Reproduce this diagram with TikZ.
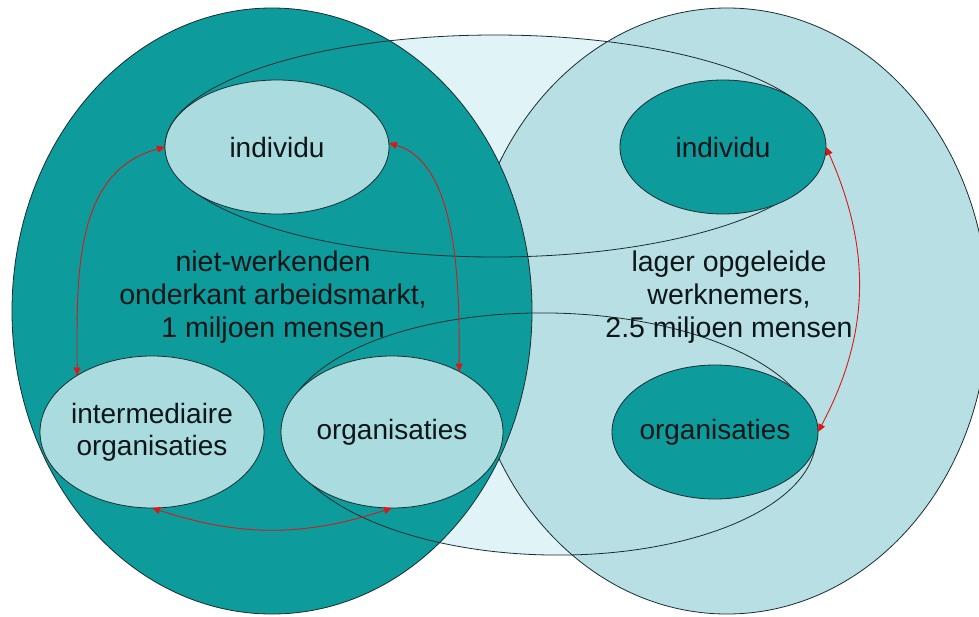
\documentclass[tikz,border=0pt]{standalone}
\usepackage{fontspec}
\setmainfont{Liberation Sans}
\usetikzlibrary{shapes.geometric,arrows.meta}
\definecolor{darkteal}{RGB}{14,155,156}
\definecolor{lightteal}{RGB}{184,224,228}
\definecolor{nodelight}{RGB}{170,220,223}
\definecolor{bandcol}{RGB}{224,243,246}
\definecolor{edgecol}{RGB}{25,45,48}
\definecolor{txtcol}{RGB}{12,22,24}
\definecolor{arrcol}{RGB}{215,25,25}
\tikzset{
  blob/.style={ellipse, inner sep=0pt, outer sep=0pt, draw=edgecol, line width=0.8pt},
  lbl/.style={font=\fontsize{28}{32}\selectfont, text=txtcol, align=center, inner sep=0pt},
  bigtxt/.style={font=\fontsize{28.5}{33}\selectfont, text=txtcol, align=center, inner sep=0pt},
  link/.style={draw=arrcol, line width=0.9pt, {Triangle[length=8pt,width=7pt]}-{Triangle[length=8pt,width=7pt]}}
}
\begin{document}
\begin{tikzpicture}[x=1pt,y=1pt]
\useasboundingbox (0,0) rectangle (979,-616);
\clip (0,0) rectangle (979,-616);
\fill[white] (0,0) rectangle (979,-616);
% band fills
\fill[bandcol] (495,-146) ellipse [x radius=330pt, y radius=111pt];
\fill[bandcol, rotate around={-1:(550,-434)}] (550,-434) ellipse [x radius=266pt, y radius=121pt];
% big ellipses
\node[blob, fill=lightteal, minimum width=522pt, minimum height=606pt] (bigR) at (727,-311) {};
\node[blob, fill=darkteal, minimum width=520pt, minimum height=606pt] (bigL) at (272,-311) {};
% band outlines
\node[blob, minimum width=660pt, minimum height=222pt] (bandT) at (495,-146) {};
\node[blob, rotate=-1, minimum width=532pt, minimum height=242pt] (bandB) at (550,-434) {};
% small ellipses
\node[blob, fill=nodelight, minimum width=224pt, minimum height=134pt] (indL) at (277,-147) {};
\node[blob, fill=darkteal, minimum width=206pt, minimum height=134pt] (indR) at (723,-147) {};
\node[blob, fill=nodelight, minimum width=224pt, minimum height=152pt] (intm) at (152,-432) {};
\node[blob, fill=nodelight, minimum width=222pt, minimum height=152pt] (orgL) at (392,-432) {};
\node[blob, fill=darkteal, minimum width=206pt, minimum height=134pt] (orgR) at (715,-432) {};
% texts
\node[lbl] (tindL) at (indL.center) {individu};
\node[lbl] (tindR) at (indR.center) {individu};
\node[lbl] (tintm) at (intm.center) {intermediaire\\organisaties};
\node[lbl] (torgL) at (orgL.center) {organisaties};
\node[lbl] (torgR) at (orgR.center) {organisaties};
\node[bigtxt] (tleft) at (273,-297) {niet-werkenden\\onderkant arbeidsmarkt,\\1 miljoen mensen};
\node[bigtxt] (tright) at (729,-297) {lager opgeleide\\werknemers,\\2.5 miljoen mensen};
% arrows
\draw[link] (indL.west) to[out=195,in=90] (intm.143);
\draw[link] (indL.2) to[out=-16,in=90,looseness=0.8] (orgL.42);
\draw[link] (intm.south) to[out=-18,in=198] (orgL.south);
\draw[link] (indR.east) to[out=-66,in=62] (orgR.east);
\end{tikzpicture}
\end{document}
